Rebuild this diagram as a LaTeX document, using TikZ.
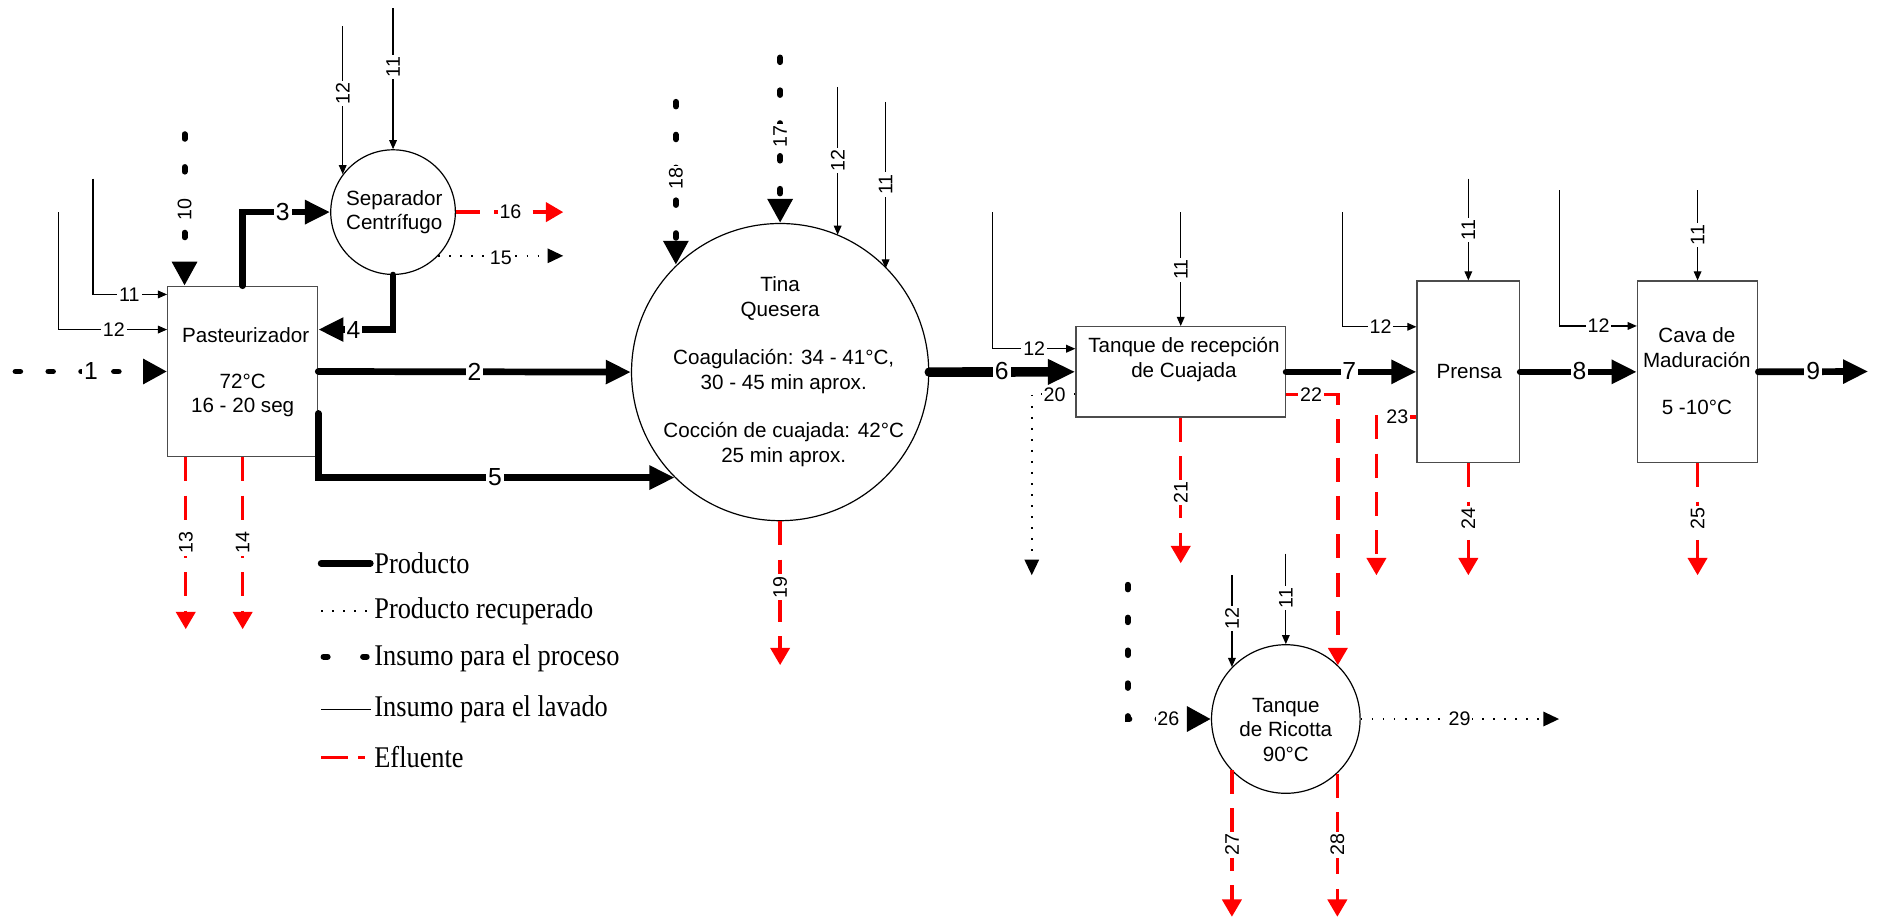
\documentclass[tikz,border=0pt]{standalone}
\usepackage{fontspec}
\setmainfont{Liberation Sans}
\newfontfamily\legfont{Liberation Serif}
\usetikzlibrary{arrows.meta}
\newcommand{\legtext}[1]{\scalebox{1}[1.14]{#1}}
\begin{document}
\begin{tikzpicture}[x=0.5pt,y=-0.5pt,
  box/.style={draw=black!70, line width=0.6pt, fill=white, inner sep=0pt},
  disc/.style={draw, circle, line width=0.5pt, fill=white, inner sep=0pt},
  txt/.style={font=\fontsize{8.6}{10.2}\selectfont, align=center, inner sep=0pt},
  prod/.style={line width=2.8pt, line cap=round, -{Triangle[length=10.5pt,width=9.5pt]}},
  prodthick/.style={line width=4pt, line cap=round, -{Triangle[length=11.5pt,width=10pt]}},
  prodleg/.style={line width=2.8pt, line cap=round},
  ins/.style={line width=2.5pt, line cap=round, dash pattern=on 1.9pt off 11.8pt, -{Triangle[length=10pt,width=10pt]}},
  insleg/.style={line width=2.5pt, line cap=round, dash pattern=on 1.7pt off 14.8pt},
  wash/.style={line width=0.5pt, -{Triangle[length=3.8pt,width=3.2pt]}},
  washleg/.style={line width=0.5pt},
  eff/.style={red, line width=1.4pt, dash pattern=on 10pt off 6pt, -{Triangle[length=7.2pt,width=8pt]}},
  effleg/.style={red, line width=1.4pt, dash pattern=on 11pt off 4.5pt on 3pt off 10pt},
  rec/.style={line width=0.7pt, dash pattern=on 0.7pt off 3.9pt, -{Triangle[length=6.5pt,width=6pt]}},
  recleg/.style={line width=0.7pt, dash pattern=on 0.7pt off 3.9pt},
  big/.style={fill=white, inner sep=0.8pt, font=\fontsize{10.3}{11}\selectfont},
  lab/.style={fill=white, inner sep=0.8pt, font=\fontsize{8.2}{9}\selectfont},
  vlab/.style={lab, rotate=90},
  leg/.style={anchor=west, inner sep=0pt, font=\legfont\fontsize{11}{13}\selectfont},
]
\useasboundingbox (0,0) rectangle (1568,767);

% ---- equipment ----
\node[box, minimum width=62.5pt, minimum height=71pt] (past) at (202.5,310) {};
\node[disc, minimum size=52pt] (sep) at (328,177) {};
\node[disc, minimum size=124pt] (tina) at (651,310.5) {};
\node[box, minimum width=87.35pt, minimum height=37.65pt] (tanq) at (985.3,310.3) {};
\node[box, minimum width=42.7pt, minimum height=75.7pt] (prensa) at (1225.3,310.3) {};
\node[box, minimum width=50.1pt, minimum height=75.7pt] (cava) at (1416.6,310.3) {};
\node[disc, minimum size=62pt] (ric) at (1073,600) {};

% ---- equipment texts ----
\node[txt] (pastA) at (205,280) {Pasteurizador};
\node[txt] (pastB) at (202.5,330) {72°C\\16 - 20 seg};
\node[txt] (sepA) at (329,177) {Separador\\Centrífugo};
\node[txt] (tinaA) at (651,249) {Tina\\Quesera};
\node[txt] (tinaB) at (654,310) {Coagulación: 34 - 41°C,\\30 - 45 min aprox.};
\node[txt] (tinaC) at (654,371) {Cocción de cuajada: 42°C\\25 min aprox.};
\node[txt] (tanqA) at (988,300) {Tanque de recepción\\de Cuajada};
\node[txt] (prensaA) at (1226,310) {Prensa};
\node[txt] (cavaA) at (1416,290) {Cava de\\Maduración};
\node[txt] (cavaB) at (1416,340) {5 -10°C};
\node[txt] (ricA) at (1073,609) {Tanque\\de Ricotta\\90°C};

% ---- free ends ----
\coordinate (i1) at (13,310);
\coordinate (i10) at (154,112);
\coordinate (i17) at (651,48);
\coordinate (i18) at (564,85);
\coordinate (i26) at (941,488);
\coordinate (w11p) at (77.6,149);
\coordinate (w12p) at (49,177);
\coordinate (w12s) at (286,22);
\coordinate (w11s) at (328,7);
\coordinate (w12t) at (699,72.5);
\coordinate (w11t) at (739,85);
\coordinate (w12q) at (828,177);
\coordinate (w11q) at (985.3,177);
\coordinate (w12r) at (1120,177);
\coordinate (w11r) at (1225.3,149);
\coordinate (w12c) at (1301.5,158.6);
\coordinate (w11c) at (1416.6,158.6);
\coordinate (w12k) at (1028,480);
\coordinate (w11k) at (1073,462);
\coordinate (e13) at (155,525);
\coordinate (e14) at (202.5,525);
\coordinate (e16) at (470,177);
\coordinate (e19) at (651,555);
\coordinate (e21) at (985.3,470);
\coordinate (e23) at (1148.6,480);
\coordinate (e24) at (1225.3,480);
\coordinate (e25) at (1416.6,480);
\coordinate (e27) at (1028,765);
\coordinate (e28) at (1116,765);
\coordinate (r15) at (470,215);
\coordinate (r20) at (861,480);
\coordinate (r29) at (1301,600);
\coordinate (p9) at (1559,310);

% ---- product ----
\draw[prod] (past.east) -- (tina.west);
\draw[prod] (past.north) |- (sep.west);
\draw[prod] (sep.south) |- ([yshift=17.5pt]past.east);
\draw[prod] ([yshift=-17.5pt]past.east) |- (tina.225);
\draw[prodthick] (tina.east) -- (tanq.west);
\draw[prod] (tanq.east) -- (prensa.west);
\draw[prod] (prensa.east) -- (cava.west);
\draw[prod] (cava.east) -- (p9);

% ---- process inputs ----
\draw[ins] (i1) -- (past.west);
\draw[ins] (i10) -- (i10 |- past.north);
\draw[ins] (i17) -- (tina.north);
\draw[ins] (i18) -- (i18 |- tina.134.5);
\draw[ins] (i26) |- (ric.west);

% ---- washing inputs ----
\draw[wash] (w11p) |- ([yshift=32.15pt]past.west);
\draw[wash] (w12p) |- ([yshift=17.5pt]past.west);
\draw[wash] (w12s) -- (w12s |- sep.143.8);
\draw[wash] (w11s) -- (sep.north);
\draw[wash] (w12t) -- (w12t |- tina.67.2);
\draw[wash] (w11t) -- (w11t |- tina.44.8);
\draw[wash] (w12q) |- ([yshift=9.65pt]tanq.west);
\draw[wash] (w11q) -- (tanq.north);
\draw[wash] (w12r) |- ([yshift=18.8pt]prensa.west);
\draw[wash] (w11r) -- (prensa.north);
\draw[wash] (w12c) |- ([yshift=19.15pt]cava.west);
\draw[wash] (w11c) -- (cava.north);
\draw[wash] (w12k) -- (w12k |- ric.136.5);
\draw[wash] (w11k) -- (ric.north);

% ---- effluents ----
\draw[eff] (e13 |- past.south) -- (e13);
\draw[eff] (e14 |- past.south) -- (e14);
\draw[eff] (sep.east) -- (e16);
\draw[eff] (tina.south) -- (e19);
\draw[eff] (tanq.south) -- (e21);
\draw[eff] ([yshift=-9.35pt]tanq.east) -| (ric.46.1);
\draw[eff] ([yshift=-18.85pt]prensa.west) -| (e23);
\draw[eff] (prensa.south) -- (e24);
\draw[eff] (cava.south) -- (e25);
\draw[eff] (e27 |- ric.223.5) -- (e27);
\draw[eff] (e28 |- ric.313.9) -- (e28);

% ---- recovered product ----
\draw[rec] (sep.-44) -- (sep.-44 -| r15);
\draw[rec] ([yshift=-9.35pt]tanq.west) -| (r20);
\draw[rec] (ric.east) -- (r29);

% ---- stream numbers ----
\node[big] (n1) at (76,310) {1};
\node[big] (n2) at (396,310) {2};
\node[big] (n3) at (236,177) {3};
\node[big] (n4) at (295,275) {4};
\node[big] (n5) at (413,398) {5};
\node[big] (n6) at (836,310) {6};
\node[big] (n7) at (1126,310) {7};
\node[big] (n8) at (1318,310) {8};
\node[big] (n9) at (1513,310) {9};
\node[vlab] (n10) at (154,175) {10};
\node[lab] (n11p) at (108,245.7) {11};
\node[lab] (n12p) at (95,275) {12};
\node[vlab] (n12s) at (286,78) {12};
\node[vlab] (n11s) at (328,56) {11};
\node[lab] (n16) at (426,177) {16};
\node[lab] (n15) at (418,215) {15};
\node[vlab] (n13) at (155,453) {13};
\node[vlab] (n14) at (202.5,453) {14};
\node[vlab] (n18) at (564,149) {18};
\node[vlab] (n17) at (651,114) {17};
\node[vlab] (n12t) at (699,134) {12};
\node[vlab] (n11t) at (739,154) {11};
\node[vlab] (n19) at (651,490) {19};
\node[lab] (n12q) at (863,291) {12};
\node[vlab] (n11q) at (985.3,225) {11};
\node[lab] (n20) at (880,329) {20};
\node[vlab] (n21) at (985.3,411) {21};
\node[lab] (n22) at (1094,329) {22};
\node[lab] (n12r) at (1152,272.7) {12};
\node[vlab] (n11r) at (1225.3,192) {11};
\node[lab] (n23) at (1166,348) {23};
\node[vlab] (n24) at (1225.3,433) {24};
\node[lab] (n12c) at (1334,272) {12};
\node[vlab] (n11c) at (1416.6,196) {11};
\node[vlab] (n25) at (1416.6,433) {25};
\node[vlab] (n12k) at (1028,516) {12};
\node[vlab] (n11k) at (1073,499) {11};
\node[lab] (n26) at (975,600) {26};
\node[lab] (n29) at (1218,600) {29};
\node[vlab] (n27) at (1028,705) {27};
\node[vlab] (n28) at (1116,705) {28};

% ---- legend ----
\coordinate (k1a) at (268,470); \coordinate (k1b) at (309,470);
\coordinate (k2a) at (268,510); \coordinate (k2b) at (310,510);
\coordinate (k3a) at (270,548); \coordinate (k3b) at (306,548);
\coordinate (k4a) at (268,592); \coordinate (k4b) at (310,592);
\coordinate (k5a) at (268,632); \coordinate (k5b) at (310,632);
\draw[prodleg] (k1a) -- (k1b);
\draw[recleg] (k2a) -- (k2b);
\draw[insleg] (k3a) -- (k3b);
\draw[washleg] (k4a) -- (k4b);
\draw[effleg] (k5a) -- (k5b);
\node[leg] (g1) at (312,470) {\legtext{Producto}};
\node[leg] (g2) at (312,510) {\legtext{Producto recuperado}};
\node[leg] (g3) at (312,549) {\legtext{Insumo para el proceso}};
\node[leg] (g4) at (312,592) {\legtext{Insumo para el lavado}};
\node[leg] (g5) at (312,632) {\legtext{Efluente}};
\end{tikzpicture}
\end{document}
